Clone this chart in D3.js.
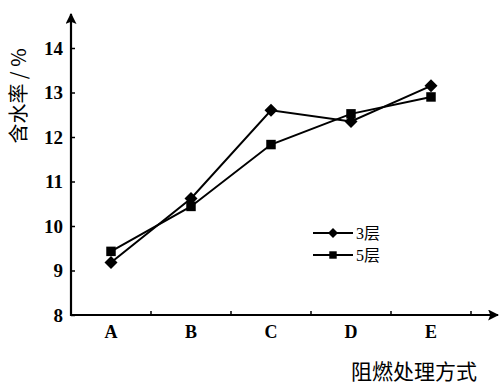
<!DOCTYPE html>
<html>
<head>
<meta charset="utf-8">
<script src="https://cdn.jsdelivr.net/npm/d3@7/dist/d3.min.js"></script>
<style>
  body { margin: 0; background: #fff; }
  svg { display: block; }
</style>
</head>
<body>
<svg id="chart" width="500" height="389"></svg>
<script>
// data
var categories = ['A', 'B', 'C', 'D', 'E'];
var layer3 = [9.18, 10.62, 12.6, 12.35, 13.15];
var layer5 = [9.43, 10.44, 11.83, 12.52, 12.9];
var yTicks = [8, 9, 10, 11, 12, 13, 14];
var seriesNames = ['3层', '5层'];

var numFont = '"Liberation Serif", "DejaVu Serif", serif';
var cjkFont = '"Noto Sans CJK SC", sans-serif';
var mixFont = '"Liberation Serif", "Noto Sans CJK SC", serif';

var svg = d3.select('#chart');

var x = d3.scaleBand().domain(categories).range([71, 471]).padding(0);
var y = d3.scaleLinear().domain([8, 14]).range([315, 48]);

// y axis
var yAxis = d3.axisLeft(y)
  .tickValues(yTicks)
  .tickSizeInner(-4)
  .tickSizeOuter(0)
  .tickPadding(8)
  .tickFormat(d3.format('d'));

var gy = svg.append('g')
  .attr('transform', 'translate(71,0)')
  .call(yAxis);
gy.select('.domain').remove();
gy.selectAll('.tick line').attr('stroke', '#000').attr('stroke-width', 1.5);
gy.selectAll('.tick text')
  .attr('font-family', numFont)
  .attr('font-weight', 'bold')
  .attr('font-size', 19)
  .attr('fill', '#000');

// x axis labels
var xAxis = d3.axisBottom(x).tickSize(0).tickPadding(10);
var gx = svg.append('g')
  .attr('transform', 'translate(0,315)')
  .call(xAxis);
gx.select('.domain').remove();
gx.selectAll('.tick text')
  .attr('font-family', numFont)
  .attr('font-weight', 'bold')
  .attr('font-size', 18)
  .attr('fill', '#000');

// x ticks on band boundaries
svg.append('g').selectAll('line')
  .data(categories)
  .enter().append('line')
  .attr('x1', function (d) { return x(d) + x.bandwidth(); })
  .attr('x2', function (d) { return x(d) + x.bandwidth(); })
  .attr('y1', 315)
  .attr('y2', 311)
  .attr('stroke', '#000')
  .attr('stroke-width', 1.5);

// axis lines with arrows
var defs = svg.append('defs');
defs.append('marker')
  .attr('id', 'arrow')
  .attr('viewBox', '0 0 10 10')
  .attr('refX', 9).attr('refY', 5)
  .attr('markerWidth', 5).attr('markerHeight', 5)
  .attr('markerUnits', 'strokeWidth')
  .attr('orient', 'auto')
  .append('path')
  .attr('d', 'M0,0 L10,5 L0,10 L2,5 Z')
  .attr('fill', '#000');

svg.append('line')
  .attr('x1', 71).attr('y1', y(8) + 1)
  .attr('x2', 71).attr('y2', 14)
  .attr('stroke', '#000').attr('stroke-width', 2.2)
  .attr('marker-end', 'url(#arrow)');

svg.append('line')
  .attr('x1', 70).attr('y1', y(8))
  .attr('x2', 498).attr('y2', y(8))
  .attr('stroke', '#000').attr('stroke-width', 2.2)
  .attr('marker-end', 'url(#arrow)');

// axis titles
svg.append('text')
  .attr('transform', 'translate(26,96) rotate(-90)')
  .attr('text-anchor', 'middle')
  .attr('font-family', cjkFont)
  .attr('font-size', 20)
  .attr('fill', '#000')
  .text('含水率 / %');

svg.append('text')
  .attr('x', 477)
  .attr('y', 379)
  .attr('text-anchor', 'end')
  .attr('font-family', cjkFont)
  .attr('font-size', 21)
  .attr('fill', '#000')
  .text('阻燃处理方式');

// series
var line = d3.line()
  .x(function (d, i) { return x(categories[i]) + x.bandwidth() / 2; })
  .y(function (d) { return y(d); });

// rotated square, like the printed markers
function diamondPath(r) {
  return 'M0,' + (-r) + 'L' + r + ',0L0,' + r + 'L' + (-r) + ',0Z';
}
var square = d3.symbol().type(d3.symbolSquare).size(90);

function drawSeries(values, markerPath) {
  svg.append('path')
    .datum(values)
    .attr('d', line)
    .attr('fill', 'none')
    .attr('stroke', '#000')
    .attr('stroke-width', 2);
  svg.append('g').selectAll('path')
    .data(values)
    .enter().append('path')
    .attr('transform', function (d, i) {
      return 'translate(' + (x(categories[i]) + x.bandwidth() / 2) + ',' + y(d) + ')';
    })
    .attr('d', markerPath)
    .attr('fill', '#000');
}

drawSeries(layer3, diamondPath(6.5));
drawSeries(layer5, square);

// legend
var legend = svg.append('g').attr('transform', 'translate(313,233)');
var legendMarks = [diamondPath(5), d3.symbol().type(d3.symbolSquare).size(55)()];
seriesNames.forEach(function (name, i) {
  var g = legend.append('g').attr('transform', 'translate(0,' + (i * 22) + ')');
  g.append('line')
    .attr('x1', 0).attr('x2', 40)
    .attr('stroke', '#000').attr('stroke-width', 2);
  g.append('path')
    .attr('transform', 'translate(20,0)')
    .attr('d', legendMarks[i])
    .attr('fill', '#000');
  g.append('text')
    .attr('x', 43)
    .attr('y', 6)
    .attr('font-family', mixFont)
    .attr('font-size', 16)
    .attr('fill', '#000')
    .text(name);
});
</script>
</body>
</html>
